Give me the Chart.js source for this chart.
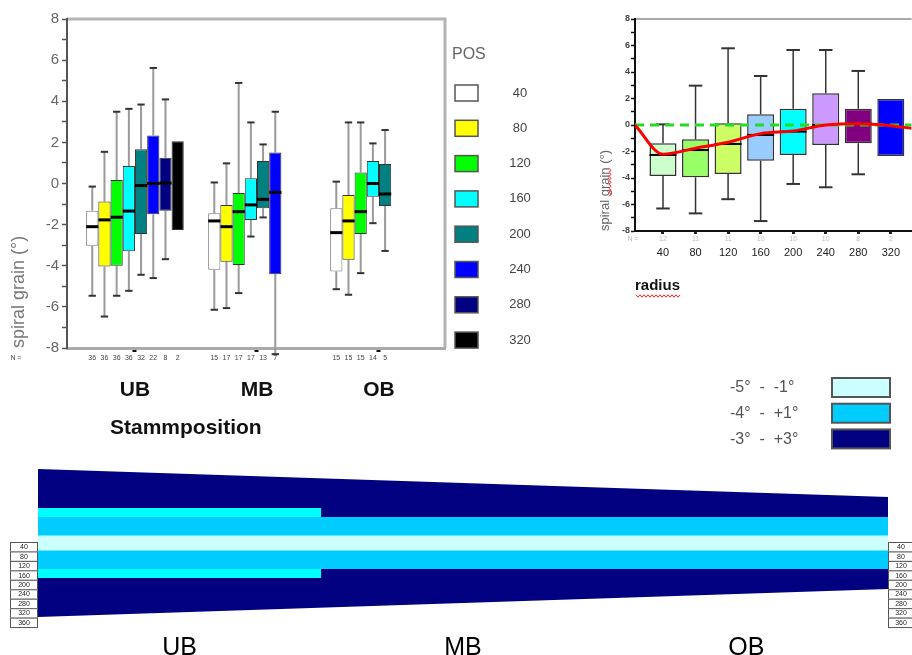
<!DOCTYPE html>
<html>
<head>
<meta charset="utf-8">
<script src="https://cdn.jsdelivr.net/npm/chart.js@4.4.1/dist/chart.umd.min.js"></script>
<style>
  html, body { margin: 0; padding: 0; background: #fff; width: 912px; height: 655px; overflow: hidden; }
  canvas { position: absolute; }
  #boxChart { left: 0; top: 0; }
  #radiusChart { left: 590px; top: 0; }
  #stemChart { left: 0; top: 360px; }
</style>
</head>
<body>
<canvas id="boxChart" width="560" height="450"></canvas>
<canvas id="radiusChart" width="322" height="300"></canvas>
<canvas id="stemChart" width="912" height="295"></canvas>
<script>
const FONT = "'Liberation Sans', Arial, sans-serif";
Chart.defaults.font.family = FONT;

// ---- left chart: spiral grain per stem position (UB, MB, OB) and radius position
const groups = ["UB", "MB", "OB"];
const positions = ["40", "80", "120", "160", "200", "240", "280", "320"];
const posColors = ["#ffffff", "#ffff00", "#00ff00", "#00ffff", "#008080", "#0000ff", "#000080", "#000000"];
// one row per position, columns UB, MB, OB
const posLow = [
  [-5.46, -6.14, -5.14], [-6.47, -6.06, -5.41], [-5.46, -5.33, -4.36], [-5.22, -2.58, -1.93],
  [-4.44, -1.65, -3.28], [-4.6, -8.3, null], [-3.68, null, null], [null, null, null]
];
const posQ1 = [
  [-3.03, -4.2, -4.28], [-4.04, -3.8, -3.71], [-4.0, -3.96, -2.45], [-3.29, -1.77, -0.64],
  [-2.45, -1.2, -1.09], [-1.5, -4.41, null], [-1.32, null, null], [-2.26, null, null]
];
const posMed = [
  [-2.1, -1.82, -2.39], [-1.77, -2.1, -1.82], [-1.64, -1.37, -1.37], [-1.34, -1.04, 0.0],
  [-0.1, -0.77, -0.51], [0.0, -0.43, null], [0.02, null, null], [null, null, null]
];
const posQ3 = [
  [-1.32, -1.45, -1.2], [-0.88, -1.04, -0.56], [0.17, -0.46, 0.54], [0.85, 0.25, 1.09],
  [1.67, 1.09, 0.95], [2.34, 1.51, null], [1.25, null, null], [2.06, null, null]
];
const posHigh = [
  [-0.15, 0.05, 0.09], [1.54, 0.98, 2.97], [3.49, 4.89, 2.97], [3.63, 2.97, 1.95],
  [3.84, 1.9, 2.6], [5.62, 3.49, null], [4.09, null, null], [null, null, null]
];
const posN = [
  [36, 15, 15], [36, 17, 15], [36, 17, 15], [36, 17, 14],
  [32, 13, 5], [22, 7, null], [8, null, null], [2, null, null]
];
const yTicks = [-8, -7, -6, -5, -4, -3, -2, -1, 0, 1, 2, 3, 4, 5, 6, 7, 8];

// ---- right chart: all positions pooled per radius
const radii = [40, 80, 120, 160, 200, 240, 280, 320];
const radColors = ["#ccffcc", "#99ff66", "#ccff66", "#99ccff", "#00ffff", "#cc99ff", "#800080", "#0000ff"];
const radLow = [-6.3, -6.67, -5.6, -7.25, -4.45, -4.7, -3.72, null];
const radQ1 = [-3.85, -3.95, -3.7, -2.69, -2.26, -1.5, -1.38, -2.34];
const radMed = [-2.26, -1.89, -1.43, -0.75, -0.5, 0.0, 0.1, null];
const radQ3 = [-1.38, -1.08, 0.13, 0.81, 1.23, 2.39, 1.23, 1.96];
const radHigh = [0.05, 2.97, 5.79, 3.7, 5.66, 5.66, 4.08, null];
const radN = [12, 11, 11, 10, 10, 10, 8, 2];
const trendX = [5.6, 40, 80, 120, 160, 200, 240, 280, 320, 345.5];
const trendY = [0, -2.2, -1.75, -1.3, -0.65, -0.45, 0, 0.1, -0.05, -0.25];

// ---- bottom: stem section scheme (x: UB 0-1, MB 1-2, OB 2-3; y: radius mm)
const stemX = [0, 3];
const stemOuter = [296, 184];
const ubX = [0, 1];
const ubCyan = [140, 140];
const midBand = [104, 104];
const lightBand = [30, 30];
const sectionMid = [0.5, 1.5, 2.5];
const zoneLabels = ["-5°  -  -1°", "-4°  -  +1°", "-3°  -  +3°"];
const zoneColors = ["#ccffff", "#00ccff", "#000080"];
const tableRadii = ["40", "80", "120", "160", "200", "240", "280", "320", "360"];

// whiskers and medians drawn from dataset stats through the y scale
const whiskers = {
  id: "whiskers",
  beforeDatasetsDraw(chart, args, o) {
    const ctx = chart.ctx, ys = chart.scales.y;
    chart.data.datasets.forEach((ds, di) => {
      if (!ds.stats) return;
      chart.getDatasetMeta(di).data.forEach((bar, i) => {
        const s = ds.stats[i];
        const cap = bar.width * o.cap / 2;
        ctx.save();
        [[s.q3, s.hi], [s.q1, s.lo]].forEach(([from, to]) => {
          if (to == null) return;
          const y0 = ys.getPixelForValue(from), y1 = ys.getPixelForValue(to);
          ctx.strokeStyle = o.color; ctx.lineWidth = o.width;
          ctx.beginPath(); ctx.moveTo(bar.x, y0); ctx.lineTo(bar.x, y1); ctx.stroke();
          ctx.strokeStyle = o.capColor; ctx.lineWidth = o.capWidth;
          ctx.beginPath(); ctx.moveTo(bar.x - cap, y1); ctx.lineTo(bar.x + cap, y1); ctx.stroke();
        });
        ctx.restore();
      });
    });
  },
  afterDatasetDraw(chart, args, o) {
    const ds = chart.data.datasets[args.index];
    if (!ds.stats) return;
    const ctx = chart.ctx, ys = chart.scales.y;
    chart.getDatasetMeta(args.index).data.forEach((bar, i) => {
      const m = ds.stats[i].med;
      if (m == null) return;
      const y = ys.getPixelForValue(m);
      ctx.save();
      ctx.strokeStyle = "#000"; ctx.lineWidth = o.medWidth;
      ctx.beginPath(); ctx.moveTo(bar.x - bar.width / 2, y); ctx.lineTo(bar.x + bar.width / 2, y); ctx.stroke();
      ctx.restore();
    });
  }
};

// N = row under the axis
const nRow = {
  id: "nRow",
  afterDraw(chart, args, o) {
    const ctx = chart.ctx, xs = chart.scales.x;
    ctx.save();
    ctx.font = o.size + "px " + FONT; ctx.fillStyle = o.color;
    ctx.textAlign = "center"; ctx.textBaseline = "middle";
    const y = xs.top + o.dy;
    ctx.fillText("N =", o.labelX, y);
    chart.data.datasets.forEach((ds, di) => {
      if (!ds.stats) return;
      chart.getDatasetMeta(di).data.forEach((bar, i) => {
        if (ds.stats[i].n != null) ctx.fillText(String(ds.stats[i].n), bar.x, y);
      });
    });
    ctx.restore();
  }
};

// top (and right) frame line
const frame = {
  id: "frame",
  beforeDraw(chart, args, o) {
    const ctx = chart.ctx, a = chart.chartArea;
    ctx.save();
    ctx.strokeStyle = o.color; ctx.lineWidth = o.width;
    ctx.beginPath(); ctx.moveTo(a.left, a.top); ctx.lineTo(a.right, a.top);
    if (o.right) ctx.lineTo(a.right, a.bottom);
    ctx.stroke();
    ctx.restore();
  }
};

const posLegend = {
  id: "posLegend",
  afterDraw(chart) {
    const ctx = chart.ctx, x0 = chart.chartArea.right + 10;
    ctx.save();
    ctx.textBaseline = "middle";
    ctx.font = "16px " + FONT; ctx.fillStyle = "#666"; ctx.textAlign = "left";
    ctx.fillText("POS", x0 - 3, 55);
    chart.data.datasets.forEach((ds, i) => {
      const y = 93 + i * 35.3;
      ctx.fillStyle = ds.backgroundColor; ctx.fillRect(x0, y - 8, 23, 16);
      ctx.strokeStyle = "#555"; ctx.lineWidth = 1.5; ctx.strokeRect(x0, y - 8, 23, 16);
      ctx.fillStyle = "#444"; ctx.font = "13px " + FONT; ctx.textAlign = "center";
      ctx.fillText(ds.label, x0 + 65, y);
    });
    // x axis title
    ctx.font = "bold 21px " + FONT; ctx.fillStyle = "#111"; ctx.textAlign = "left";
    ctx.fillText("Stammposition", chart.chartArea.left + 43, 428);
    ctx.restore();
  }
};

// red spell-check squiggles seen under "radius" and "grain"
function squiggle(ctx, x0, y0, len, vertical) {
  ctx.beginPath();
  for (let d = 0; d <= len; d += 2) {
    const off = (d / 2) % 2 === 0 ? -1.2 : 1.2;
    const x = vertical ? x0 + off : x0 + d;
    const y = vertical ? y0 - d : y0 + off;
    if (d === 0) ctx.moveTo(x, y); else ctx.lineTo(x, y);
  }
  ctx.stroke();
}
const spellMarks = {
  id: "spellMarks",
  afterDraw(chart) {
    const ctx = chart.ctx, a = chart.chartArea;
    ctx.save();
    ctx.strokeStyle = "#ff2020"; ctx.lineWidth = 1;
    ctx.font = "bold 15px " + FONT;
    squiggle(ctx, a.left + 1, 296, ctx.measureText("radius").width, false);
    ctx.font = "13px " + FONT;
    const start = ctx.measureText("spiral ").width;
    squiggle(ctx, 20, a.bottom - start, ctx.measureText("grain").width, true);
    ctx.restore();
  }
};

const boxSets = positions.map((p, pi) => {
  const data = [], stats = [];
  groups.forEach((g, gi) => {
    if (posQ1[pi][gi] == null) return;
    data.push({ x: gi, y: [posQ1[pi][gi], posQ3[pi][gi]] });
    stats.push({ lo: posLow[pi][gi], q1: posQ1[pi][gi], med: posMed[pi][gi], q3: posQ3[pi][gi], hi: posHigh[pi][gi], n: posN[pi][gi] });
  });
  return {
    label: p, data, stats,
    backgroundColor: posColors[pi],
    borderColor: pi === 0 ? "#777" : "#333",
    borderWidth: 1, borderSkipped: false
  };
});

new Chart(document.getElementById("boxChart"), {
  type: "bar",
  data: { datasets: boxSets },
  plugins: [frame, whiskers, nRow, posLegend],
  options: {
    responsive: false, animation: false,
    layout: { padding: { top: 19, right: 115, bottom: 0, left: 0 } },
    categoryPercentage: 0.8, barPercentage: 1.0,
    plugins: {
      legend: { display: false }, tooltip: { enabled: false },
      frame: { color: "#b4b4b4", width: 3, right: true },
      whiskers: { color: "#9a9a9a", width: 2, cap: 0.6, capColor: "#333", capWidth: 2, medWidth: 3 },
      nRow: { size: 7, color: "#444", dy: 10, labelX: 16 }
    },
    scales: {
      x: {
        type: "linear", min: -0.557, max: 2.541, offset: false,
        afterBuildTicks: s => { s.ticks = groups.map((g, i) => ({ value: i })); },
        afterFit: s => { s.height = 102; },
        ticks: { callback: (v, i) => groups[i], font: { size: 21, weight: "bold" }, color: "#111", padding: 26, autoSkip: false, maxRotation: 0 },
        grid: { drawOnChartArea: false, offset: false, tickLength: 4, tickWidth: 4, tickColor: "#111" },
        border: { color: "#aaa", width: 3 }
      },
      y: {
        min: -8, max: 8,
        afterBuildTicks: s => { s.ticks = yTicks.map(v => ({ value: v })); },
        afterFit: s => { s.width = 67; },
        ticks: { callback: v => (v % 2 === 0 ? String(v) : ""), font: { size: 15 }, color: "#666", padding: 3, autoSkip: false },
        grid: { drawOnChartArea: false, tickLength: 5, tickColor: "#555", tickWidth: 1.5 },
        border: { color: "#555", width: 2 },
        title: { display: true, text: "spiral grain (°)", align: "start", font: { size: 18 }, color: "#777", padding: { top: 8, bottom: 0 } }
      }
    }
  }
});

// ---- right chart
const radStats = radii.map((r, i) => ({ lo: radLow[i], q1: radQ1[i], med: radMed[i], q3: radQ3[i], hi: radHigh[i], n: radN[i] }));

new Chart(document.getElementById("radiusChart"), {
  type: "bar",
  data: {
    datasets: [
      {
        type: "line", label: "trend", order: 0,
        data: trendX.map((x, i) => ({ x, y: trendY[i] })),
        borderColor: "#ff0000", borderWidth: 3, pointRadius: 0,
        cubicInterpolationMode: "monotone", fill: false
      },
      {
        type: "line", label: "zero", order: 1,
        data: [{ x: trendX[0], y: 0 }, { x: trendX[trendX.length - 1], y: 0 }],
        borderColor: "#22dd22", borderWidth: 3, borderDash: [9, 6], pointRadius: 0, fill: false
      },
      {
        type: "bar", label: "radius", order: 2,
        data: radii.map((r, i) => ({ x: r, y: [radQ1[i], radQ3[i]] })),
        stats: radStats,
        backgroundColor: radColors, borderColor: "#333", borderWidth: 1.5, borderSkipped: false,
        categoryPercentage: 0.83, barPercentage: 1.0
      }
    ]
  },
  plugins: [frame, whiskers, nRow, spellMarks],
  options: {
    responsive: false, animation: false,
    layout: { padding: { top: 19, right: 0, bottom: 0, left: 0 } },
    plugins: {
      legend: { display: false }, tooltip: { enabled: false },
      frame: { color: "#aaa", width: 2, right: false },
      whiskers: { color: "#333", width: 1.5, cap: 0.5, capColor: "#333", capWidth: 2, medWidth: 2 },
      nRow: { size: 7, color: "#bbb", dy: 8, labelX: 43 }
    },
    scales: {
      x: {
        type: "linear", min: 5.6, max: 345.5, offset: false,
        afterBuildTicks: s => { s.ticks = radii.map(v => ({ value: v })); },
        afterFit: s => { s.height = 69; },
        ticks: { callback: v => String(v), font: { size: 11 }, color: "#222", padding: 12, autoSkip: false, maxRotation: 0 },
        grid: { drawOnChartArea: false, offset: false, tickLength: 3, tickWidth: 3, tickColor: "#222" },
        border: { color: "#111", width: 2 },
        title: { display: true, text: "radius", align: "start", font: { size: 15, weight: "bold" }, color: "#111", padding: { top: 0, bottom: 5 } }
      },
      y: {
        min: -8, max: 8,
        afterBuildTicks: s => { s.ticks = yTicks.map(v => ({ value: v })); },
        afterFit: s => { s.width = 45; },
        ticks: { callback: v => (v % 2 === 0 ? String(v) : ""), font: { size: 9, weight: "bold" }, color: "#444", padding: 1, autoSkip: false },
        grid: { drawOnChartArea: false, tickLength: 4, tickColor: "#111", tickWidth: 1.5 },
        border: { color: "#111", width: 2 },
        title: { display: true, text: "spiral grain (°)", align: "start", font: { size: 13 }, color: "#666", padding: { top: 8, bottom: 0 } }
      }
    }
  }
});

// ---- bottom stem scheme
function band(xs, rs, color) {
  return [1, -1].map(sign => ({
    data: xs.map((x, i) => ({ x, y: sign * rs[i] })),
    borderWidth: 0, pointRadius: 0, fill: "origin", backgroundColor: color, tension: 0
  }));
}

const zoneLegend = {
  id: "zoneLegend",
  afterDraw(chart) {
    const ctx = chart.ctx, a = chart.chartArea;
    ctx.save();
    ctx.textBaseline = "middle"; ctx.textAlign = "left";
    zoneLabels.forEach((t, i) => {
      const y = 28 + i * 25.7;
      ctx.font = "16px " + FONT; ctx.fillStyle = "#555";
      ctx.fillText(t, 730, y);
      ctx.fillStyle = zoneColors[i]; ctx.fillRect(832, y - 10, 58, 19);
      ctx.strokeStyle = "#555"; ctx.lineWidth = 2; ctx.strokeRect(832, y - 10, 58, 19);
    });
    // radius tables at both ends
    const rowH = 9.45, top = (a.top + a.bottom) / 2 - 1;
    [[a.left - 28, 28], [a.right, 26]].forEach(([x, w]) => {
      tableRadii.forEach((t, i) => {
        const y = top + i * rowH;
        ctx.fillStyle = "#fff"; ctx.fillRect(x, y, w, rowH);
        ctx.strokeStyle = "#555"; ctx.lineWidth = 1; ctx.strokeRect(x + 0.5, y + 0.5, w - 1, rowH);
        ctx.fillStyle = "#222"; ctx.font = "7px " + FONT; ctx.textAlign = "center";
        ctx.fillText(t, x + w / 2, y + rowH / 2 + 0.5);
      });
    });
    ctx.restore();
  }
};

new Chart(document.getElementById("stemChart"), {
  type: "line",
  data: {
    datasets: [
      ...band(stemX, lightBand, zoneColors[0]),
      ...band(stemX, midBand, zoneColors[1]),
      ...band(ubX, ubCyan, "#00ffff"),
      ...band(stemX, stemOuter, zoneColors[2])
    ]
  },
  plugins: [zoneLegend],
  options: {
    responsive: false, animation: false,
    layout: { padding: { top: 100, right: 24, bottom: 0, left: 38 } },
    plugins: { legend: { display: false }, tooltip: { enabled: false } },
    scales: {
      x: {
        type: "linear", min: 0, max: 3, offset: false,
        afterBuildTicks: s => { s.ticks = sectionMid.map(v => ({ value: v })); },
        afterFit: s => { s.height = 29; },
        ticks: { callback: (v, i) => groups[i], font: { size: 25 }, color: "#000", padding: -1, autoSkip: false, maxRotation: 0 },
        grid: { display: false }, border: { display: false }
      },
      y: { display: false, min: -332, max: 332 }
    }
  }
});
</script>
</body>
</html>
